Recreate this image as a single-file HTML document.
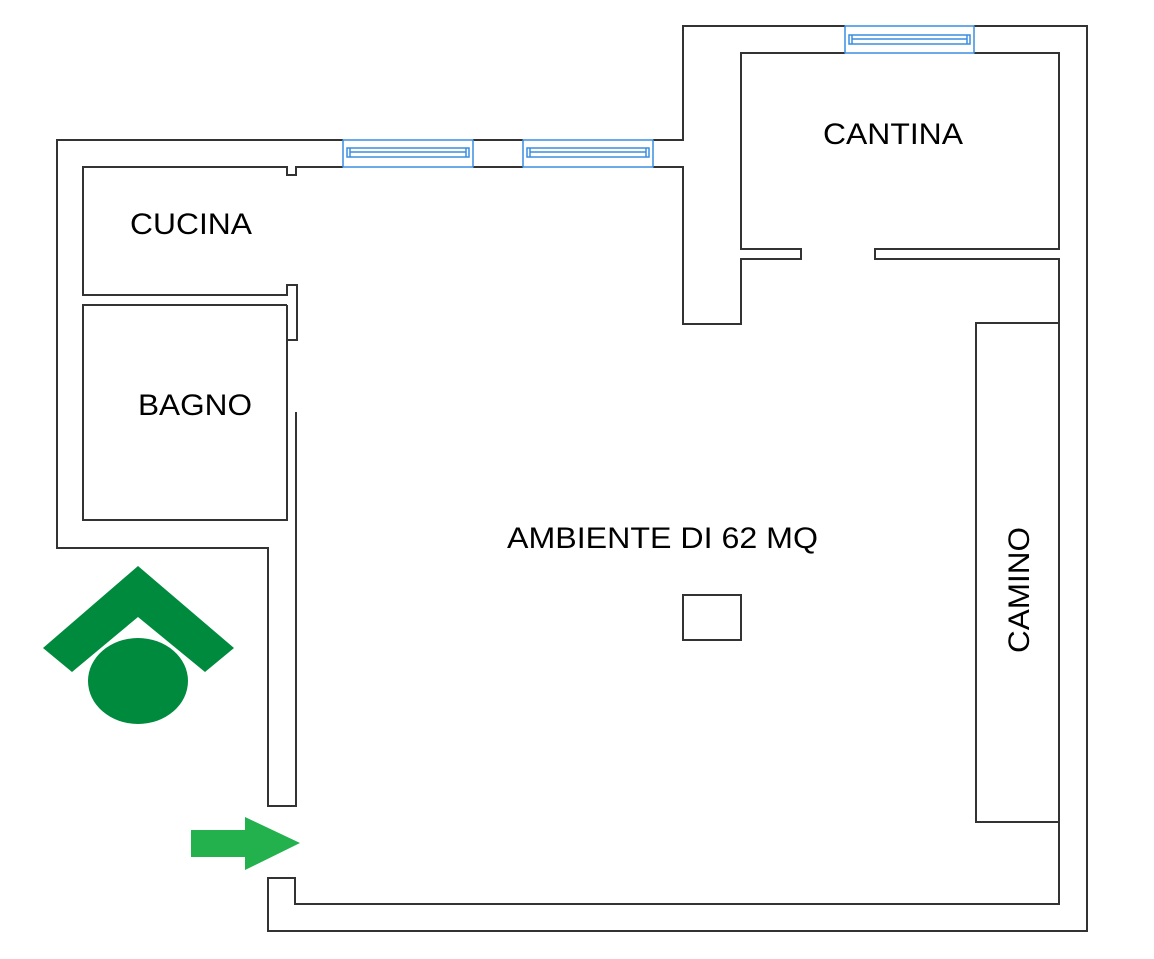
<!DOCTYPE html>
<html><head><meta charset="utf-8"><style>html,body{margin:0;padding:0;background:#fff}svg{display:block}</style></head>
<body>
<svg width="1154" height="959" viewBox="0 0 1154 959" xmlns="http://www.w3.org/2000/svg">
<g fill="none" stroke="#333" stroke-width="2">
<!-- outer outline -->
<polyline points="343,140 57,140 57,548 268,548 268,806 296,806 296,412"/>
<polyline points="473,140 523,140"/>
<polyline points="653,140 683,140 683,26 845,26"/>
<polyline points="974,26 1087,26 1087,931 268,931 268,878 295,878 295,904 1059,904 1059,259 875,259 875,249 1059,249 1059,53 974,53"/>
<polyline points="845,53 741,53 741,249 801,249 801,259 741,259 741,324 683,324 683,167 653,167"/>
<polyline points="523,167 473,167"/>
<polyline points="343,167 296,167 296,175 287,175 287,167 83,167 83,295 287,295 287,285 297,285 297,340 287,340"/>
<polyline points="287,305 83,305 83,520 287,520 287,305"/>
<!-- camino -->
<polyline points="1059,323 976,323 976,822 1059,822"/>
<!-- column -->
<rect x="683" y="595" width="58" height="45"/>
</g>
<g fill="none" stroke="#3a8ee0" stroke-width="1.5">
<rect x="343" y="140" width="130" height="27"/>
<rect x="347" y="148" width="122" height="9"/>
<line x1="350" y1="148" x2="350" y2="157"/><line x1="466" y1="148" x2="466" y2="157"/>
<line x1="350" y1="152" x2="466" y2="152"/>
<rect x="523" y="140" width="130" height="27"/>
<rect x="527" y="148" width="122" height="9"/>
<line x1="530" y1="148" x2="530" y2="157"/><line x1="646" y1="148" x2="646" y2="157"/>
<line x1="530" y1="152" x2="646" y2="152"/>
<rect x="845" y="26" width="129" height="27"/>
<rect x="849" y="35" width="121" height="9"/>
<line x1="852" y1="35" x2="852" y2="44"/><line x1="967" y1="35" x2="967" y2="44"/>
<line x1="852" y1="39" x2="967" y2="39"/>
</g>
<!-- logo -->
<polygon points="138,566 234,648 205,672 138,617 72,672 43,648" fill="#008a3e"/>
<ellipse cx="138" cy="681" rx="50" ry="43" fill="#008a3e"/>
<!-- arrow -->
<polygon points="191,830 245,830 245,817 300,843 245,870 245,857 191,857" fill="#22b14c"/>
<g font-family="Liberation Sans, Arial, sans-serif" font-size="30" fill="#000">
<text x="130" y="234" textLength="122" lengthAdjust="spacingAndGlyphs">CUCINA</text>
<text x="138" y="415" textLength="114" lengthAdjust="spacingAndGlyphs">BAGNO</text>
<text x="823" y="144" textLength="140" lengthAdjust="spacingAndGlyphs">CANTINA</text>
<text x="507" y="548" textLength="311" lengthAdjust="spacingAndGlyphs">AMBIENTE DI 62 MQ</text>
<text x="0" y="0" transform="translate(1029,653) rotate(-90)" textLength="126" lengthAdjust="spacingAndGlyphs">CAMINO</text>
</g>
</svg>
</body></html>
